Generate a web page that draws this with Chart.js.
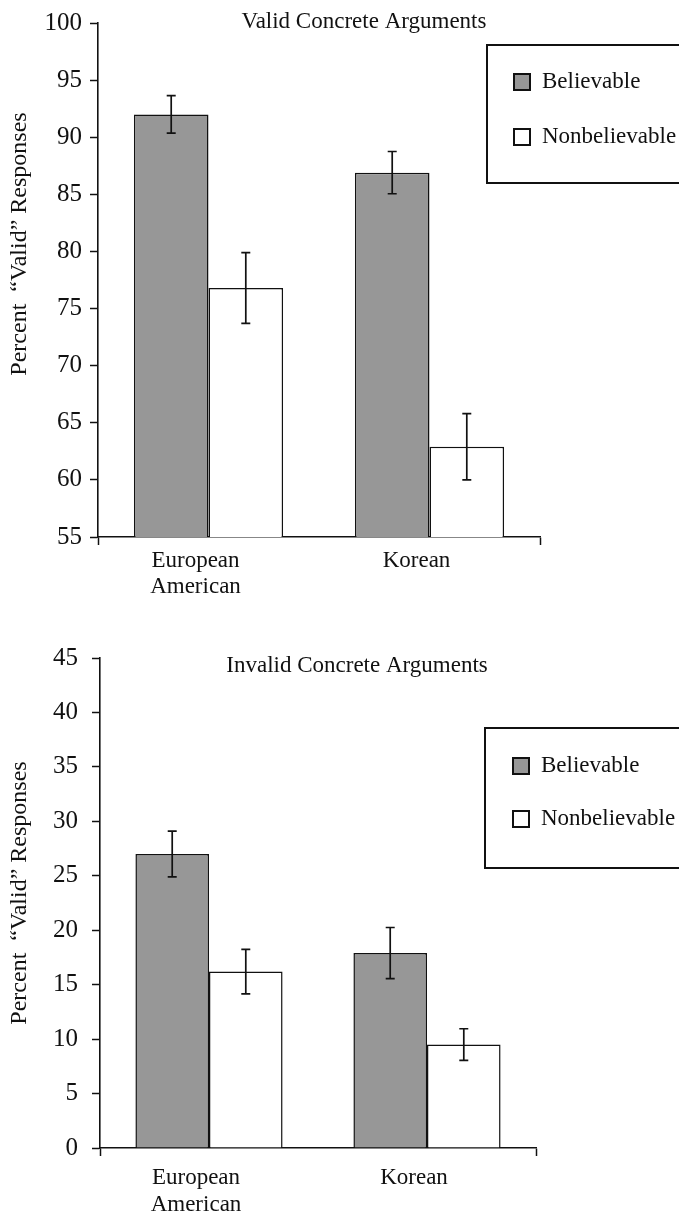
<!DOCTYPE html>
<html>
<head>
<meta charset="utf-8">
<title>Percent "Valid" Responses — Concrete Arguments</title>
<script src="https://cdn.jsdelivr.net/npm/chart.js@4.4.1/dist/chart.umd.min.js"></script>
<style>
  html, body { margin: 0; padding: 0; background: #ffffff; }
  #wrap { position: relative; width: 679px; height: 1214px; overflow: hidden; }
  .panel { position: absolute; left: 0; width: 679px; }
  #p1 { top: 0; height: 600px; }
  #p2 { top: 600px; height: 614px; }
  canvas { display: block; }
</style>
</head>
<body>
<div id="wrap">
  <div class="panel" id="p1"><canvas id="validChart" width="679" height="600"></canvas></div>
  <div class="panel" id="p2"><canvas id="invalidChart" width="679" height="614"></canvas></div>
</div>
<script>
// ---- data ----
const groups = [['European', 'American'], 'Korean'];
const seriesNames = ['Believable', 'Nonbelievable'];
const yAxisLabel = 'Percent  \u201cValid\u201d Responses';

const validTitle = 'Valid Concrete Arguments';
const validBelievable = [92.0, 86.9];
const validBelievableErr = [1.65, 1.85];
const validNonbelievable = [76.8, 62.9];
const validNonbelievableErr = [3.1, 2.9];
const validRange = [55, 100];

const invalidTitle = 'Invalid Concrete Arguments';
const invalidBelievable = [27.0, 17.9];
const invalidBelievableErr = [2.1, 2.35];
const invalidNonbelievable = [16.2, 9.5];
const invalidNonbelievableErr = [2.05, 1.45];
const invalidRange = [0, 45];

const tickStep = 5;

// ---- styling ----
const serif = '"Liberation Serif", "Times New Roman", "DejaVu Serif", serif';
const ink = '#111111';
const grayFill = '#979797';
const whiteFill = '#ffffff';

// Error bars drawn from each dataset's `errors` array through the y scale
const errorBarPlugin = {
  id: 'errorBars',
  afterDatasetsDraw(chart, args, opts) {
    const { ctx } = chart;
    const y = chart.scales.y;
    ctx.save();
    ctx.strokeStyle = opts.color || ink;
    ctx.lineWidth = opts.width || 1.6;
    const cap = opts.cap || 4.5;
    chart.data.datasets.forEach((ds, i) => {
      const meta = chart.getDatasetMeta(i);
      if (!ds.errors) return;
      meta.data.forEach((bar, j) => {
        const v = ds.data[j];
        const e = ds.errors[j];
        const x = bar.x;
        const yHi = y.getPixelForValue(v + e);
        const yLo = y.getPixelForValue(v - e);
        ctx.beginPath();
        ctx.moveTo(x, yHi); ctx.lineTo(x, yLo);
        ctx.moveTo(x - cap, yHi); ctx.lineTo(x + cap, yHi);
        ctx.moveTo(x - cap, yLo); ctx.lineTo(x + cap, yLo);
        ctx.stroke();
      });
    });
    ctx.restore();
  }
};

// Panel title, rotated y label and the boxed legend
const panelTextPlugin = {
  id: 'panelText',
  afterDraw(chart, args, o) {
    const { ctx } = chart;
    ctx.save();
    ctx.fillStyle = ink;
    ctx.textBaseline = 'middle';

    // title
    ctx.font = `23px ${serif}`;
    ctx.textAlign = 'center';
    ctx.fillText(o.title, o.titleX, o.titleY);

    // y-axis label
    ctx.save();
    ctx.translate(o.yLabelX, o.yLabelY);
    ctx.rotate(-Math.PI / 2);
    ctx.font = `24px ${serif}`;
    ctx.textAlign = 'center';
    ctx.fillText(o.yLabel, 0, 0);
    ctx.restore();

    // legend box
    const L = o.legend;
    ctx.strokeStyle = ink;
    ctx.lineWidth = 2;
    ctx.strokeRect(L.x, L.y, L.w, L.h);
    ctx.font = `23px ${serif}`;
    ctx.textAlign = 'left';
    chart.data.datasets.forEach((ds, i) => {
      const cy = L.rows[i];
      ctx.fillStyle = ds.backgroundColor;
      ctx.fillRect(L.boxX, cy - L.box / 2, L.box, L.box);
      ctx.lineWidth = 2;
      ctx.strokeRect(L.boxX, cy - L.box / 2, L.box, L.box);
      ctx.fillStyle = ink;
      ctx.fillText(ds.label, L.textX, cy);
    });
    ctx.restore();
  }
};

function buildPanel(canvasId, p) {
  return new Chart(document.getElementById(canvasId), {
    type: 'bar',
    data: {
      labels: groups,
      datasets: [
        {
          label: seriesNames[0], data: p.believable, errors: p.believableErr,
          backgroundColor: grayFill, borderColor: ink, borderWidth: 1.5,
          categoryPercentage: 0.675, barPercentage: 1.0
        },
        {
          label: seriesNames[1], data: p.nonbelievable, errors: p.nonbelievableErr,
          backgroundColor: whiteFill, borderColor: ink, borderWidth: 1.5,
          categoryPercentage: 0.675, barPercentage: 1.0
        }
      ]
    },
    options: {
      responsive: false,
      animation: false,
      events: [],
      layout: { padding: { top: p.padTop, right: p.padRight, bottom: 0, left: 0 } },
      plugins: {
        legend: { display: false },
        tooltip: { enabled: false },
        errorBars: { color: ink, width: 1.7, cap: 4.5 },
        panelText: {
          title: p.title, titleX: p.titleX, titleY: p.titleY,
          yLabel: yAxisLabel, yLabelX: p.yLabelX, yLabelY: p.yLabelY,
          legend: p.legend
        }
      },
      scales: {
        x: {
          offset: true,
          grid: {
            display: true, drawOnChartArea: false, tickLength: 8, tickWidth: 1.5,
            tickColor: (c) => (c.index === 1 ? 'rgba(0,0,0,0)' : ink)
          },
          border: { display: true, color: ink, width: 1.6 },
          ticks: {
            color: ink, font: { family: serif, size: 23, lineHeight: p.xLine },
            padding: p.xPad, labelOffset: -13, maxRotation: 0, autoSkip: false
          },
          afterFit: (s) => { s.height = p.xAxisHeight; }
        },
        y: {
          min: p.range[0], max: p.range[1],
          grid: { display: true, drawOnChartArea: false, tickLength: 8, tickWidth: 1.5, tickColor: ink },
          border: { display: true, color: ink, width: 1.6 },
          ticks: {
            stepSize: tickStep, color: ink,
            font: { family: serif, size: 25 }, padding: p.yPad
          },
          afterFit: (s) => { s.width = p.yAxisWidth; }
        }
      }
    },
    plugins: [errorBarPlugin, panelTextPlugin]
  });
}

buildPanel('validChart', {
  title: validTitle, titleX: 364, titleY: 22,
  believable: validBelievable, believableErr: validBelievableErr,
  nonbelievable: validNonbelievable, nonbelievableErr: validNonbelievableErr,
  range: validRange,
  padTop: 15, padRight: 139, xAxisHeight: 63, yAxisWidth: 98,
  xPad: 3, xLine: 1.12, yPad: 8,
  yLabelX: 20, yLabelY: 244,
  legend: { x: 487, y: 45, w: 200, h: 138, boxX: 514, box: 16, textX: 542, rows: [82, 137] }
});

buildPanel('invalidChart', {
  title: invalidTitle, titleX: 357, titleY: 66,
  believable: invalidBelievable, believableErr: invalidBelievableErr,
  nonbelievable: invalidNonbelievable, nonbelievableErr: invalidNonbelievableErr,
  range: invalidRange,
  padTop: 58, padRight: 143, xAxisHeight: 66, yAxisWidth: 100,
  xPad: 8, xLine: 1.2, yPad: 14,
  yLabelX: 20, yLabelY: 293,
  legend: { x: 485, y: 128, w: 200, h: 140, boxX: 513, box: 16, textX: 541, rows: [166, 219] }
});
</script>
</body>
</html>
